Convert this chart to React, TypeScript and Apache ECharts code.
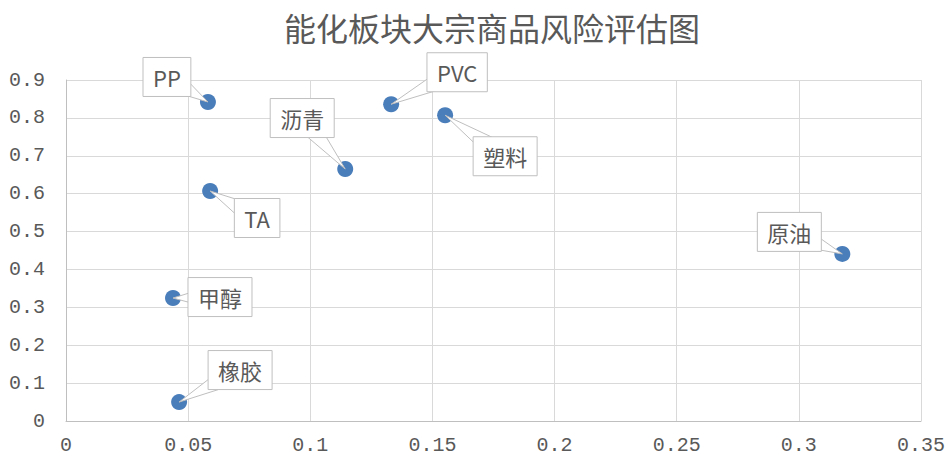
import React, { useEffect, useRef } from "react";
import * as echarts from "echarts";

const names = ["PP", "PVC", "塑料", "沥青", "TA", "原油", "甲醇", "橡胶"];
const xValues = [0.0581, 0.1331, 0.1552, 0.1143, 0.059, 0.3178, 0.0438, 0.0463];
const yValues = [0.842, 0.836, 0.807, 0.665, 0.607, 0.441, 0.3245, 0.05];
// label box centre offsets from the point, in pixels
const labelDx = [-41, 66, 60, -43, 47, -53, 47, 61];
const labelDy = [-25, -32, 41, -51, 27, -22, -1, -32];

const FONT = '"Noto Sans CJK SC", "Microsoft YaHei", sans-serif';
const TICK_FONT = '"Liberation Mono", "DejaVu Sans Mono", monospace';
const LABEL_SIZE = 22;
const PAD_X = 10;
const HALF_H = 19.5;

export default function App() {
  const ref = useRef<HTMLDivElement>(null);
  useEffect(() => {
    if (!ref.current) return;
    const chart = echarts.init(ref.current, undefined, { renderer: "svg" });
    const data = names.map((n, i) => ({ name: n, value: [xValues[i], yValues[i]] }));
    chart.setOption({
      animation: false,
      title: {
        text: "能化板块大宗商品风险评估图",
        left: 279,
        top: 6,
        textStyle: { fontFamily: FONT, fontSize: 32, fontWeight: "normal", color: "#595959" },
      },
      grid: { left: 66, right: 27, top: 80, bottom: 37 },
      xAxis: {
        type: "value",
        min: 0,
        max: 0.35,
        interval: 0.05,
        axisLine: { show: true, lineStyle: { color: "#bfbfbf" } },
        axisTick: { show: false },
        splitLine: { show: true, lineStyle: { color: "#d9d9d9" } },
        axisLabel: { color: "#595959", fontSize: 20, fontFamily: TICK_FONT, margin: 14 },
      },
      yAxis: {
        type: "value",
        min: 0,
        max: 0.9,
        interval: 0.1,
        axisLine: { show: true, lineStyle: { color: "#bfbfbf" } },
        axisTick: { show: false },
        splitLine: { show: true, lineStyle: { color: "#d9d9d9" } },
        axisLabel: {
          color: "#595959",
          fontSize: 20,
          fontFamily: TICK_FONT,
          margin: 21,
          formatter: (v: number) => String(Math.round(v * 10) / 10),
        },
      },
      series: [
        {
          type: "scatter",
          symbolSize: 16,
          itemStyle: { color: "#4a7ebb", opacity: 1 },
          data,
        },
      ],
    });

    const ctx = document.createElement("canvas").getContext("2d");
    if (ctx) ctx.font = `${LABEL_SIZE}px ${FONT}`;
    const graphics: any[] = [];
    names.forEach((n, i) => {
      const p = chart.convertToPixel({ seriesIndex: 0 }, [xValues[i], yValues[i]]) as number[];
      const cx = p[0] + labelDx[i];
      const cy = p[1] + labelDy[i];
      const tw = ctx ? ctx.measureText(n).width : n.length * LABEL_SIZE;
      const hw = tw / 2 + PAD_X;
      const hh = HALF_H;
      const dx = cx - p[0];
      const dy = cy - p[1];
      const len = Math.hypot(dx, dy) || 1;
      const s = Math.min(hw / Math.abs(dx || 1e-6), hh / Math.abs(dy || 1e-6));
      const k = s * 0.5;
      const bx = cx - dx * k;
      const by = cy - dy * k;
      const px = (-dy / len) * 9;
      const py = (dx / len) * 9;
      graphics.push({
        type: "group",
        z: 10,
        children: [
          {
            type: "polygon",
            z: 10,
            z2: 1,
            shape: { points: [[p[0], p[1]], [bx + px, by + py], [bx - px, by - py]] },
            style: { fill: "#ffffff", stroke: "#bfbfbf", lineWidth: 1 },
          },
          {
            type: "rect",
            z: 10,
            z2: 2,
            shape: { x: cx - hw, y: cy - hh, width: hw * 2, height: hh * 2 },
            style: { fill: "#ffffff", stroke: "#bfbfbf", lineWidth: 1 },
          },
          {
            type: "text",
            z: 10,
            z2: 3,
            x: cx,
            y: cy,
            style: {
              text: n,
              fill: "#595959",
              font: `${LABEL_SIZE}px ${FONT}`,
              align: "center",
              verticalAlign: "middle",
            },
          },
        ],
      });
    });
    chart.setOption({ graphic: graphics });
    return () => chart.dispose();
  }, []);
  return (
    <div
      ref={ref}
      style={{ position: "fixed", left: 0, top: 0, width: 948, height: 458, background: "#ffffff" }}
    />
  );
}
